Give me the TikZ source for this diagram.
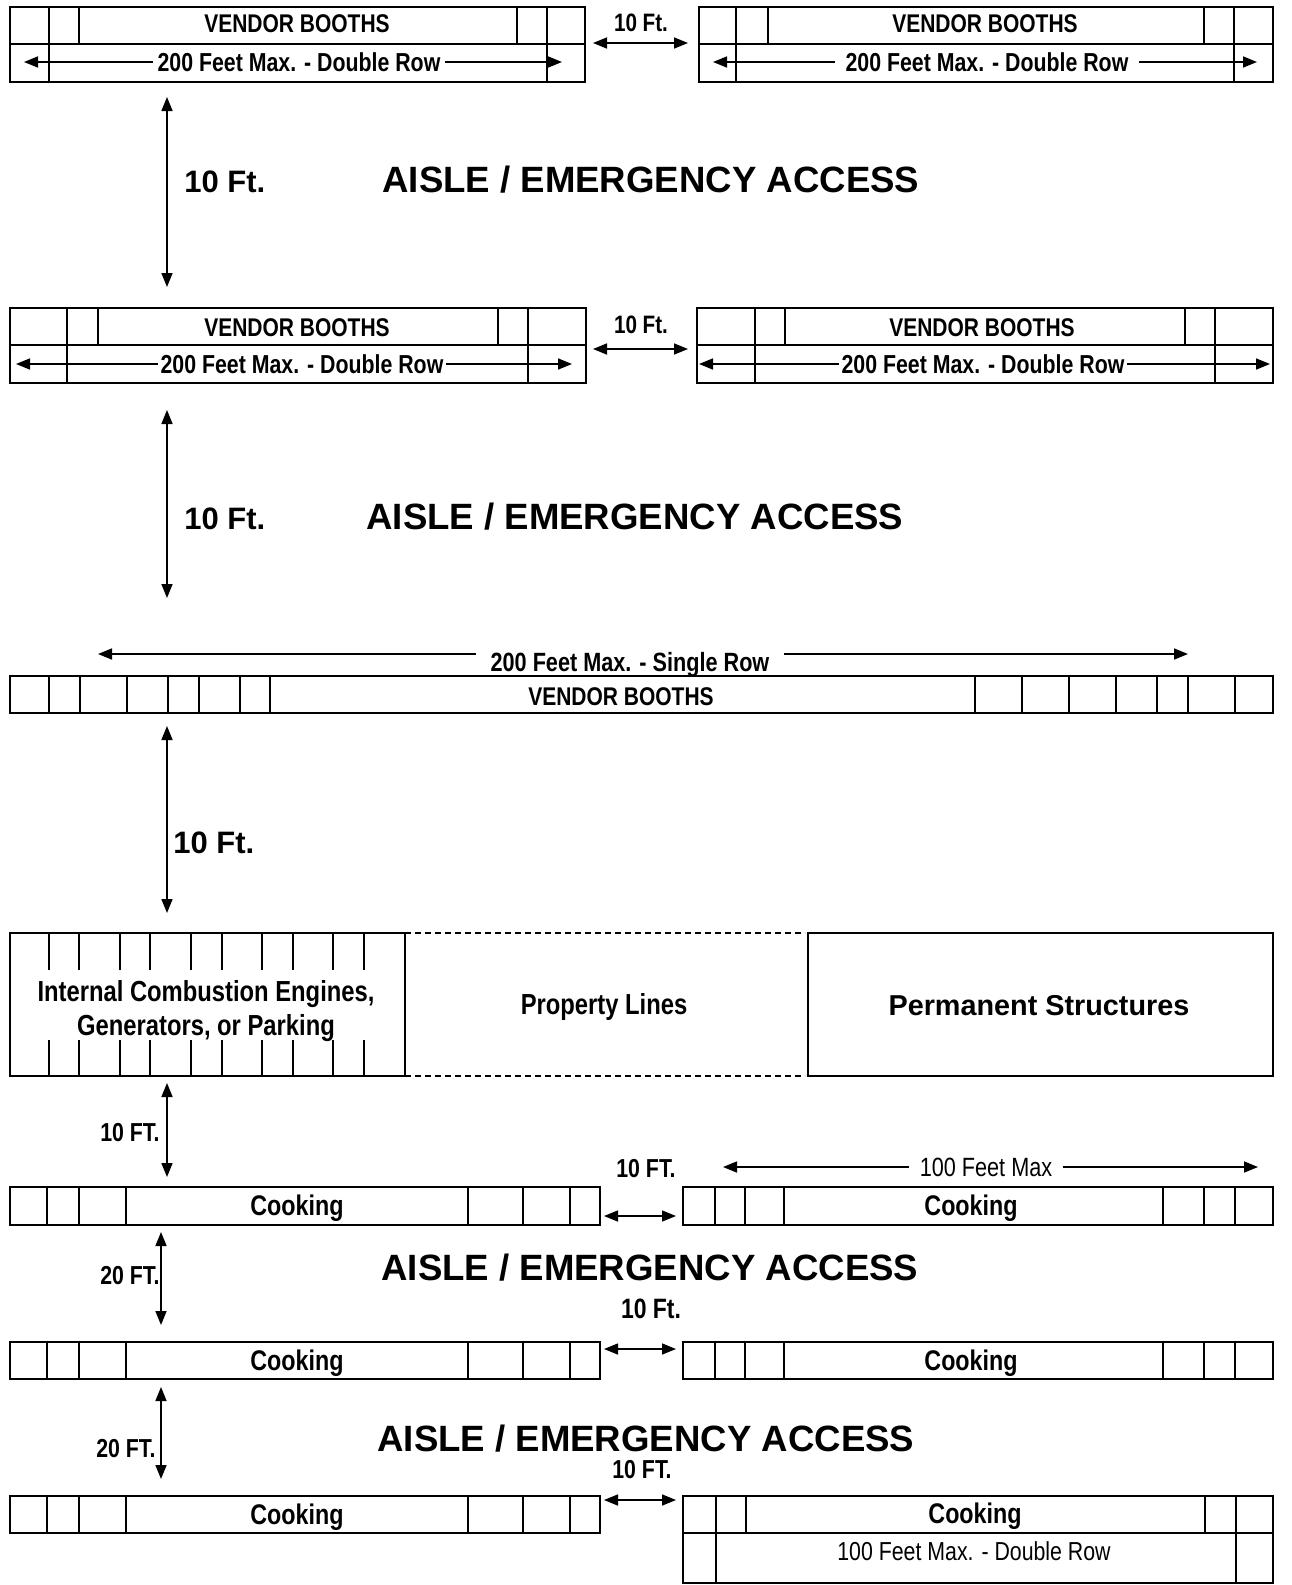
\documentclass[tikz,border=0pt]{standalone}
\usepackage{fontspec}
\setmainfont{Liberation Sans}
\newfontfamily\narrowfont[FakeStretch=0.82]{Liberation Sans}
\usetikzlibrary{arrows.meta}
\newcommand\NB[1]{\narrowfont\bfseries\fontsize{#1}{#1}\selectfont}
\newcommand\NR[1]{\narrowfont\mdseries\fontsize{#1}{#1}\selectfont}
\newcommand\AB[1]{\normalfont\bfseries\fontsize{#1}{#1}\selectfont}
\tikzset{
  >={Triangle[length=7pt,width=5.5pt]},
  boxline/.style={line width=1.2pt},
  divline/.style={line width=0.9pt},
  dimline/.style={line width=0.8pt},
  lbl/.style={inner sep=0pt,anchor=base},
  dimlbl/.style={inner ysep=0pt,inner xsep=#1,anchor=base},
  dimlbl/.default=2pt,
  propline/.style={line width=0.7pt,dash pattern=on 3pt off 2pt},
}
\begin{document}
\begin{tikzpicture}[x=0.5pt,y=-0.5pt]
\useasboundingbox (0,0) rectangle (1291,1585);

% ===== Row 1 =====
\draw[boxline] (10,7) rectangle (585,82);
\draw[divline] (10,44) -- (585,44);
\foreach \x in {49,79,517,547} \draw[divline] (\x,7) -- (\x,44);
\foreach \x in {49,547} \draw[divline] (\x,44) -- (\x,82);
\node[lbl] (vb1L) at (297,32.5) {\NB{12.8}VENDOR BOOTHS};
\node[dimlbl] (dm1L) at (299,71) {\NB{13}200 Feet Max. - Double Row};
\coordinate (a1La) at (24,62); \coordinate (a1Lb) at (562,62);
\draw[dimline,<-] (a1La) -- (a1La -| dm1L.west);
\draw[dimline,->] (a1Lb -| dm1L.east) -- (a1Lb);

\draw[boxline] (699,7) rectangle (1273,82);
\draw[divline] (699,44) -- (1273,44);
\foreach \x in {736,768,1204,1234} \draw[divline] (\x,7) -- (\x,44);
\foreach \x in {736,1234} \draw[divline] (\x,44) -- (\x,82);
\node[lbl] (vb1R) at (985,32.5) {\NB{12.8}VENDOR BOOTHS};
\node[dimlbl=5pt] (dm1R) at (987,71) {\NB{13}200 Feet Max. - Double Row};
\coordinate (a1Ra) at (713,62); \coordinate (a1Rb) at (1257,62);
\draw[dimline,<-] (a1Ra) -- (a1Ra -| dm1R.west);
\draw[dimline,->] (a1Rb -| dm1R.east) -- (a1Rb);

\node[lbl] (g1) at (641,31) {\NB{12.6}10 Ft.};
\coordinate (h1a) at (593,43); \coordinate (h1b) at (688,43);
\draw[dimline,<->] (h1a) -- (h1b);

% aisle 1
\coordinate (v1a) at (167,97); \coordinate (v1b) at (167,287);
\draw[dimline,<->] (v1a) -- (v1b);
\node[lbl,anchor=base west] (v1t) at (184,192) {\AB{15.5}10 Ft.};
\node[lbl,anchor=base west] (ais1) at (382,192) {\AB{18.3}AISLE / EMERGENCY ACCESS};

% ===== Row 2 =====
\draw[boxline] (10,308) rectangle (586,383);
\draw[divline] (10,345) -- (586,345);
\foreach \x in {67,98,498,528} \draw[divline] (\x,308) -- (\x,345);
\foreach \x in {67,528} \draw[divline] (\x,345) -- (\x,383);
\node[lbl] (vb2L) at (297,336.5) {\NB{12.8}VENDOR BOOTHS};
\node[dimlbl=1pt] (dm2L) at (302,373) {\NB{13}200 Feet Max. - Double Row};
\coordinate (a2La) at (16,364); \coordinate (a2Lb) at (572,364);
\draw[dimline,<-] (a2La) -- (a2La -| dm2L.west);
\draw[dimline,->] (a2Lb -| dm2L.east) -- (a2Lb);

\draw[boxline] (697,308) rectangle (1273,383);
\draw[divline] (697,345) -- (1273,345);
\foreach \x in {755,785,1185,1215} \draw[divline] (\x,308) -- (\x,345);
\foreach \x in {755,1215} \draw[divline] (\x,345) -- (\x,383);
\node[lbl] (vb2R) at (982,336.5) {\NB{12.8}VENDOR BOOTHS};
\node[dimlbl=1pt] (dm2R) at (983,373) {\NB{13}200 Feet Max. - Double Row};
\coordinate (a2Ra) at (699,364); \coordinate (a2Rb) at (1270,364);
\draw[dimline,<-] (a2Ra) -- (a2Ra -| dm2R.west);
\draw[dimline,->] (a2Rb -| dm2R.east) -- (a2Rb);

\node[lbl] (g2) at (641,333) {\NB{12.6}10 Ft.};
\coordinate (h2a) at (593,349); \coordinate (h2b) at (688,349);
\draw[dimline,<->] (h2a) -- (h2b);

% aisle 2
\coordinate (v2a) at (167,410); \coordinate (v2b) at (167,598);
\draw[dimline,<->] (v2a) -- (v2b);
\node[lbl,anchor=base west] (v2t) at (184,529) {\AB{15.5}10 Ft.};
\node[lbl,anchor=base west] (ais2) at (366,529) {\AB{18.3}AISLE / EMERGENCY ACCESS};

% ===== Single row =====
\node[dimlbl=7pt] (dms) at (630,671) {\NB{13.2}200 Feet Max. - Single Row};
\coordinate (asa) at (98,654); \coordinate (asb) at (1188,654);
\draw[dimline,<-] (asa) -- (asa -| dms.west);
\draw[dimline,->] (asb -| dms.east) -- (asb);
\draw[boxline] (10,676) rectangle (1273,713);
\foreach \x in {49,80,127,168,199,240,270,975,1022,1069,1116,1157,1188,1235}
  \draw[divline] (\x,676) -- (\x,713);
\node[lbl] (vbs) at (621,705) {\NB{12.8}VENDOR BOOTHS};

\coordinate (v3a) at (167,726); \coordinate (v3b) at (167,913);
\draw[dimline,<->] (v3a) -- (v3b);
\node[lbl,anchor=base west] (v3t) at (173,853) {\AB{15.5}10 Ft.};

% ===== Engines / property / structures =====
\draw[boxline] (10,933) rectangle (405,1076);
\foreach \x in {49,79,120,150,191,222,262,293,333,364} {
  \draw[divline] (\x,933) -- (\x,970);
  \draw[divline] (\x,1040) -- (\x,1076);
}
\node[lbl] (ice1) at (206,1001) {\NB{14.5}Internal Combustion Engines,};
\node[lbl] (ice2) at (206,1035) {\NB{14.5}Generators, or Parking};
\coordinate (p1a) at (405,933); \coordinate (p1b) at (805,933);
\coordinate (p2a) at (405,1076); \coordinate (p2b) at (805,1076);
\draw[propline] (p1a) -- (p1b);
\draw[propline] (p2a) -- (p2b);
\node[lbl] (prop) at (604,1014) {\NB{14.5}Property Lines};
\draw[boxline] (808,933) rectangle (1273,1076);
\node[lbl] (perm) at (1039,1015) {\AB{14.4}Permanent Structures};

% ===== Cooking =====
\coordinate (v4a) at (167,1083); \coordinate (v4b) at (167,1177);
\draw[dimline,<->] (v4a) -- (v4b);
\node[lbl,anchor=base east] (v4t) at (160,1141) {\NB{13}10 FT.};

% row c1
\draw[boxline] (10,1187) rectangle (600,1225);
\foreach \x in {47,79,126,468,523,570} \draw[divline] (\x,1187) -- (\x,1225);
\node[lbl] (ck1L) at (297,1215) {\NB{14.2}Cooking};
\draw[boxline] (683,1187) rectangle (1273,1225);
\foreach \x in {715,745,784,1163,1204,1235} \draw[divline] (\x,1187) -- (\x,1225);
\node[lbl] (ck1R) at (971,1215) {\NB{14.2}Cooking};
\node[lbl] (g3) at (646,1177) {\NB{13}10 FT.};
\coordinate (h3a) at (604,1216); \coordinate (h3b) at (676,1216);
\draw[dimline,<->] (h3a) -- (h3b);
\node[dimlbl=5pt] (dm100) at (986,1176) {\NR{13.2}100 Feet Max};
\coordinate (a100a) at (723,1167); \coordinate (a100b) at (1258,1167);
\draw[dimline,<-] (a100a) -- (a100a -| dm100.west);
\draw[dimline,->] (a100b -| dm100.east) -- (a100b);

\coordinate (v5a) at (161,1232); \coordinate (v5b) at (161,1325);
\draw[dimline,<->] (v5a) -- (v5b);
\node[lbl,anchor=base east] (v5t) at (160,1284) {\NB{13}20 FT.};
\node[lbl,anchor=base west] (ais3) at (381,1280) {\AB{18.3}AISLE / EMERGENCY ACCESS};
\node[lbl] (g4) at (651,1318) {\NB{14}10 Ft.};

% row c2
\draw[boxline] (10,1342) rectangle (600,1379);
\foreach \x in {47,79,126,468,523,570} \draw[divline] (\x,1342) -- (\x,1379);
\node[lbl] (ck2L) at (297,1370) {\NB{14.2}Cooking};
\draw[boxline] (683,1342) rectangle (1273,1379);
\foreach \x in {715,745,784,1163,1204,1235} \draw[divline] (\x,1342) -- (\x,1379);
\node[lbl] (ck2R) at (971,1370) {\NB{14.2}Cooking};
\coordinate (h4a) at (604,1349); \coordinate (h4b) at (676,1349);
\draw[dimline,<->] (h4a) -- (h4b);

\coordinate (v6a) at (161,1387); \coordinate (v6b) at (161,1479);
\draw[dimline,<->] (v6a) -- (v6b);
\node[lbl,anchor=base east] (v6t) at (156,1457) {\NB{13}20 FT.};
\node[lbl,anchor=base west] (ais4) at (377,1451) {\AB{18.3}AISLE / EMERGENCY ACCESS};
\node[lbl] (g5) at (642,1478) {\NB{13}10 FT.};

% row c3
\draw[boxline] (10,1496) rectangle (600,1533);
\foreach \x in {47,79,126,468,523,570} \draw[divline] (\x,1496) -- (\x,1533);
\node[lbl] (ck3L) at (297,1524) {\NB{14.2}Cooking};
\coordinate (h5a) at (604,1500); \coordinate (h5b) at (676,1500);
\draw[dimline,<->] (h5a) -- (h5b);
\draw[boxline] (683,1496) rectangle (1273,1583);
\draw[divline] (683,1533) -- (1273,1533);
\foreach \x in {716,746,1205,1236} \draw[divline] (\x,1496) -- (\x,1533);
\foreach \x in {716,1236} \draw[divline] (\x,1533) -- (\x,1583);
\node[lbl] (ck3R) at (975,1523) {\NB{14.2}Cooking};
\node[lbl] (dm100d) at (974,1560) {\NR{13}100 Feet Max. - Double Row};
\end{tikzpicture}
\end{document}
